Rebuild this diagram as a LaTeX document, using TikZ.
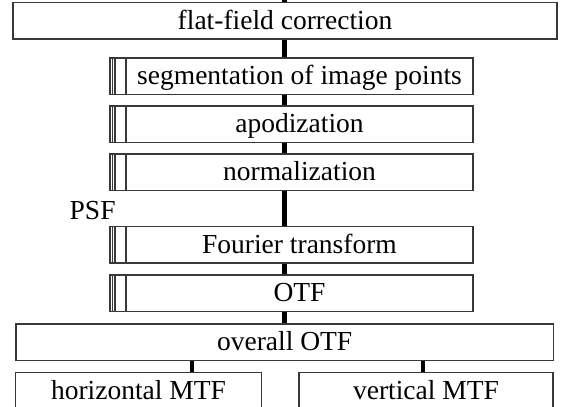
\documentclass[tikz,border=0pt]{standalone}
\usepackage{fontspec}
\setmainfont{Liberation Serif}
\begin{document}
\begin{tikzpicture}[x=1pt,y=-1pt,
  box/.style={draw=black!78, line width=1.4pt, fill=white, rectangle,
    inner sep=0pt, minimum height=36.5pt, font=\fontsize{27.5}{32}\selectfont,
    text height=22.5pt, text depth=5.5pt, text=black},
  subbox/.style={box, minimum width=363pt,
    path picture={
      \draw[black!78, line width=1.1pt]
        ([xshift=2.5pt]path picture bounding box.north west) --
        ([xshift=2.5pt]path picture bounding box.south west)
        ([xshift=5pt]path picture bounding box.north west) --
        ([xshift=5pt]path picture bounding box.south west)
        ([xshift=16pt]path picture bounding box.north west) --
        ([xshift=16pt]path picture bounding box.south west);}},
  conn/.style={line width=4.5pt, black}]
\useasboundingbox (0,0) rectangle (565,407);

% main chain
\node[box, minimum width=544pt] (ff) at (285,20.75) {flat-field correction};
\node[subbox] (seg)  at (291.5,76.3)  {\hspace*{16pt}segmentation of image points};
\node[subbox] (apod) at (291.5,124.3) {\hspace*{16pt}apodization};
\node[subbox] (norm) at (291.5,172.3) {\hspace*{16pt}normalization};
\node[subbox] (ft)   at (291.5,244.7) {\hspace*{16pt}Fourier transform};
\node[subbox] (otf)  at (291.5,293.3) {\hspace*{16pt}OTF};
\node[box, minimum width=537.3pt] (all) at (284.65,342.25) {overall OTF};
\node[box, minimum width=246.4pt] (hmtf) at (138.5,390.9) {horizontal MTF};
\node[box, minimum width=254pt]   (vmtf) at (426,390.9) {vertical MTF};

\node[anchor=base west, inner sep=0pt, font=\fontsize{27.5}{32}\selectfont,
  text=black] (psf) at (69.5,219) {PSF};

% connectors
\coordinate (spine) at (284.5,0);
\coordinate (hx) at (192,0);
\coordinate (vx) at (423,0);
\draw[conn] (spine) -- (spine |- ff.north);
\draw[conn] (spine |- ff.south)   -- (spine |- seg.north);
\draw[conn] (spine |- seg.south)  -- (spine |- apod.north);
\draw[conn] (spine |- apod.south) -- (spine |- norm.north);
\draw[conn] (spine |- norm.south) -- (spine |- ft.north);
\draw[conn] (spine |- ft.south)   -- (spine |- otf.north);
\draw[conn] (spine |- otf.south)  -- (spine |- all.north);
\draw[conn] (hx |- all.south) -- (hx |- hmtf.north);
\draw[conn] (vx |- all.south) -- (vx |- vmtf.north);
\end{tikzpicture}
\end{document}
